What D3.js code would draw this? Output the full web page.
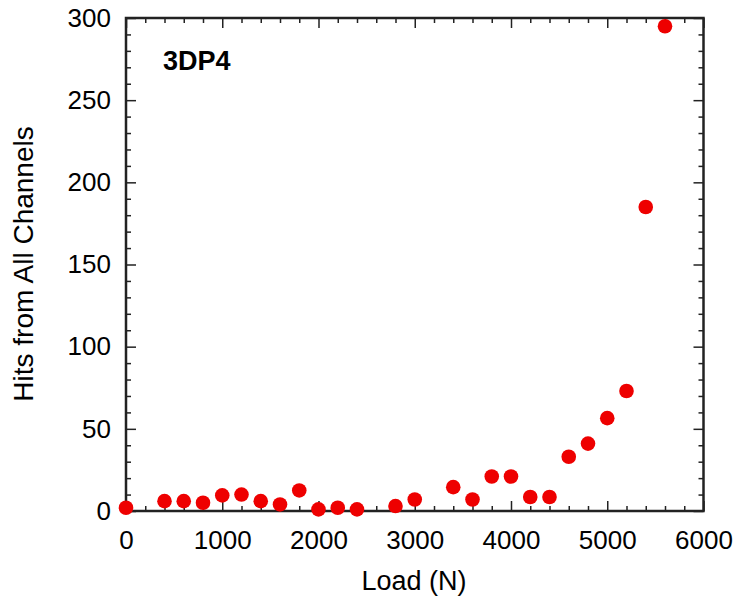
<!DOCTYPE html>
<html>
<head>
<meta charset="utf-8">
<script src="https://cdn.jsdelivr.net/npm/d3@7"></script>
<style>
  html, body { margin: 0; padding: 0; background: #fff; }
  svg { display: block; }
  text { font-family: "Liberation Sans", Arial, sans-serif; fill: #000; }
</style>
</head>
<body>
<svg id="chart" width="736" height="600"></svg>
<script>
// Load steps (N) and acoustic-emission hits summed over all channels
const loads = [0, 400, 600, 800, 1000, 1200, 1400, 1600, 1800, 2000, 2200, 2400,
               2800, 3000, 3400, 3600, 3800, 4000, 4200, 4400, 4600, 4800, 5000,
               5200, 5400, 5600];
const hits = [2, 6, 6, 5, 9.5, 10, 6, 4, 12.5, 1, 2, 1,
              3, 7, 14.5, 7, 21, 21, 8.5, 8.5, 33, 41, 56.5,
              73, 185, 295];
const xTicks = [0, 1000, 2000, 3000, 4000, 5000, 6000];
const yTicks = [0, 50, 100, 150, 200, 250, 300];
const specimen = "3DP4";

const svg = d3.select("#chart");
const m = { left: 126, right: 32.5, top: 18, bottom: 89 };
const W = 736, H = 600;

const x = d3.scaleLinear().domain([0, 6000]).range([m.left, W - m.right]);
const y = d3.scaleLinear().domain([0, 300]).range([H - m.bottom, m.top]);

const axisColor = "#222";
const minorX = d3.range(0, 6001, 200).filter(v => v % 1000 !== 0);
const minorY = d3.range(0, 301, 10).filter(v => v % 50 !== 0);

// Mirrored inward ticks on all four sides
function drawTicks(g, axis, labels) {
  g.call(axis);
  g.select(".domain").remove();
  g.selectAll(".tick line").attr("stroke", axisColor).attr("stroke-width", 1.5);
  if (!labels) g.selectAll(".tick text").remove();
}

const bottomMajor = d3.axisBottom(x).tickValues(xTicks).tickSize(-10).tickPadding(20).tickFormat(d3.format("d"));
const bottomMinor = d3.axisBottom(x).tickValues(minorX).tickSize(-5).tickFormat("");
const topMajor = d3.axisTop(x).tickValues(xTicks).tickSize(-10).tickFormat("");
const topMinor = d3.axisTop(x).tickValues(minorX).tickSize(-5).tickFormat("");
const leftMajor = d3.axisLeft(y).tickValues(yTicks).tickSize(-10).tickPadding(15).tickFormat(d3.format("d"));
const leftMinor = d3.axisLeft(y).tickValues(minorY).tickSize(-5).tickFormat("");
const rightMajor = d3.axisRight(y).tickValues(yTicks).tickSize(-10).tickFormat("");
const rightMinor = d3.axisRight(y).tickValues(minorY).tickSize(-5).tickFormat("");

const gB = svg.append("g").attr("transform", `translate(0,${y(0)})`);
drawTicks(gB.append("g"), bottomMajor, true);
drawTicks(gB.append("g"), bottomMinor, false);
const gT = svg.append("g").attr("transform", `translate(0,${y(300)})`);
drawTicks(gT.append("g"), topMajor, false);
drawTicks(gT.append("g"), topMinor, false);
const gL = svg.append("g").attr("transform", `translate(${x(0)},0)`);
drawTicks(gL.append("g"), leftMajor, true);
drawTicks(gL.append("g"), leftMinor, false);
const gR = svg.append("g").attr("transform", `translate(${x(6000)},0)`);
drawTicks(gR.append("g"), rightMajor, false);
drawTicks(gR.append("g"), rightMinor, false);

svg.selectAll(".tick text")
  .style("font-family", "'Liberation Sans', Arial, sans-serif")
  .style("font-size", "26px")
  .attr("fill", "#000");

// Frame
svg.append("rect")
  .attr("x", x(0)).attr("y", y(300))
  .attr("width", x(6000) - x(0)).attr("height", y(0) - y(300))
  .attr("fill", "none").attr("stroke", axisColor).attr("stroke-width", 2.5);

// Data points
svg.append("g").selectAll("circle")
  .data(loads.map((l, i) => ({ l, h: hits[i] })))
  .join("circle")
  .attr("cx", d => x(d.l))
  .attr("cy", d => y(d.h))
  .attr("r", 7.3)
  .attr("fill", "#ee0000");

// Axis titles
svg.append("text")
  .attr("x", 414).attr("y", 590)
  .attr("text-anchor", "middle")
  .style("font-size", "27px")
  .text("Load (N)");

svg.append("text")
  .attr("transform", `translate(33,264) rotate(-90)`)
  .attr("text-anchor", "middle")
  .style("font-size", "28px")
  .text("Hits from All Channels");

// Specimen label
svg.append("text")
  .attr("x", 163).attr("y", 70)
  .style("font-size", "27px")
  .style("font-weight", "bold")
  .text(specimen);
</script>
</body>
</html>
